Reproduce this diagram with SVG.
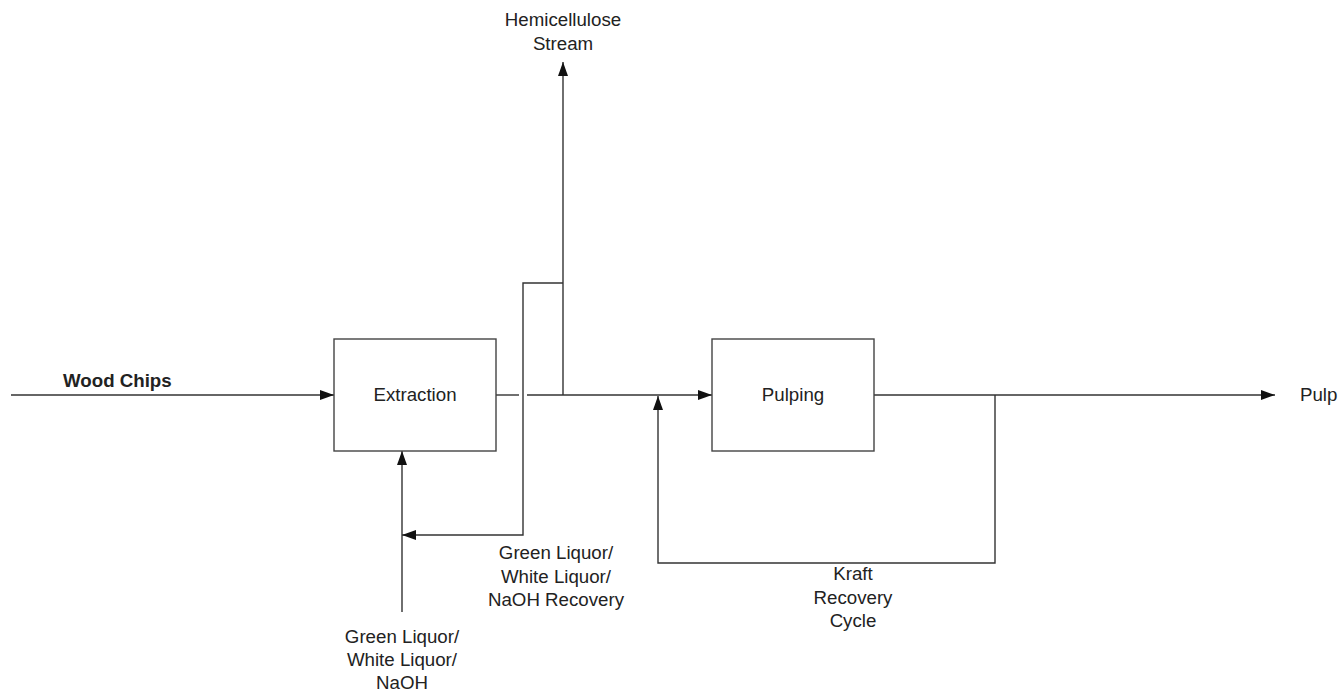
<svg xmlns="http://www.w3.org/2000/svg" width="1339" height="691" viewBox="0 0 1339 691">
<defs>
<marker id="arr" markerUnits="userSpaceOnUse" markerWidth="14" markerHeight="10" refX="14" refY="5" orient="auto">
<path d="M0,0 L14,5 L0,10 z" fill="#111"/>
</marker>
<style>
.box{fill:#fff;stroke:#444;stroke-width:1.4}
.ln{fill:none;stroke:#333;stroke-width:1.4}
.t{font-family:"Liberation Sans",Arial,sans-serif;font-size:18.7px;fill:#222;text-anchor:middle}
.b{font-weight:bold;text-anchor:start}
</style>
</defs>
<rect width="1339" height="691" fill="#fff"/>
<g id="connectors">
<line class="ln" x1="11" y1="395" x2="334" y2="395" marker-end="url(#arr)"/>
<line class="ln" x1="496" y1="395" x2="519" y2="395"/>
<line class="ln" x1="527" y1="395" x2="712" y2="395" marker-end="url(#arr)"/>
<polyline class="ln" points="563,395 563,62" marker-end="url(#arr)"/>
<polyline class="ln" points="563,283 523,283 523,535 402,535" marker-end="url(#arr)"/>
<line class="ln" x1="402" y1="612" x2="402" y2="451" marker-end="url(#arr)"/>
<line class="ln" x1="874" y1="395" x2="1275" y2="395" marker-end="url(#arr)"/>
<polyline class="ln" points="995,395 995,563 658,563 658,396" marker-end="url(#arr)"/>
</g>
<g id="extraction">
<rect class="box" x="334" y="339" width="162" height="112"/>
<text class="t" x="415" y="401">Extraction</text>
</g>
<g id="pulping">
<rect class="box" x="712" y="339" width="162" height="112"/>
<text class="t" x="793" y="401">Pulping</text>
</g>
<g id="wood-chips"><text class="t b" x="63" y="387">Wood Chips</text></g>
<g id="pulp"><text class="t" x="1300" y="401" style="text-anchor:start">Pulp</text></g>
<g id="hemicellulose">
<text class="t" x="563" y="26">Hemicellulose</text>
<text class="t" x="563" y="50">Stream</text>
</g>
<g id="gl-recovery">
<text class="t" x="556" y="559">Green Liquor/</text>
<text class="t" x="556" y="583">White Liquor/</text>
<text class="t" x="556" y="606">NaOH Recovery</text>
</g>
<g id="gl-input">
<text class="t" x="402" y="643">Green Liquor/</text>
<text class="t" x="402" y="666">White Liquor/</text>
<text class="t" x="402" y="689">NaOH</text>
</g>
<g id="kraft">
<text class="t" x="853" y="580">Kraft</text>
<text class="t" x="853" y="604">Recovery</text>
<text class="t" x="853" y="627">Cycle</text>
</g>
</svg>
